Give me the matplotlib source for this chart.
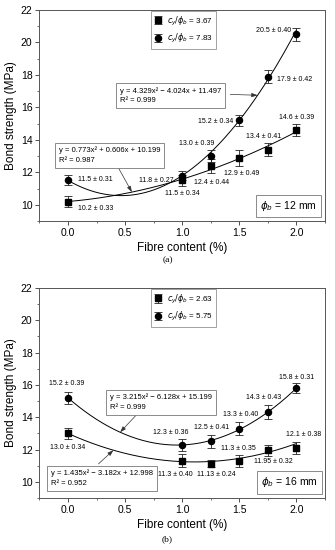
import numpy as np
import matplotlib
matplotlib.use("Agg")
import matplotlib.pyplot as plt
from matplotlib.ticker import MultipleLocator

plt.rcParams['font.family'] = ['Liberation Sans', 'DejaVu Sans']
plt.rcParams['mathtext.fontset'] = 'dejavusans'

# ---------------- data ----------------
fibre = [0.0, 1.0, 1.25, 1.5, 1.75, 2.0]

# panel (a) phi_b = 12 mm
a_sq_label = r'$c_y/\phi_b$ = 3.67'
a_ci_label = r'$c_y/\phi_b$ = 7.83'
a_sq_mean = [10.2, 11.5, 12.4, 12.9, 13.4, 14.6]
a_sq_err = [0.33, 0.34, 0.44, 0.49, 0.41, 0.39]
a_ci_mean = [11.5, 11.8, 13.0, 15.2, 17.9, 20.5]
a_ci_err = [0.31, 0.27, 0.39, 0.34, 0.42, 0.40]
a_sq_fit = [0.773, 0.606, 10.199]
a_ci_fit = [4.329, -4.024, 11.497]
a_sq_r2 = 0.987
a_ci_r2 = 0.999

# panel (b) phi_b = 16 mm
b_sq_label = r'$c_y/\phi_b$ = 2.63'
b_ci_label = r'$c_y/\phi_b$ = 5.75'
b_sq_mean = [13.0, 11.3, 11.13, 11.3, 11.95, 12.1]
b_sq_err = [0.34, 0.40, 0.24, 0.35, 0.32, 0.38]
b_ci_mean = [15.2, 12.3, 12.5, 13.3, 14.3, 15.8]
b_ci_err = [0.39, 0.36, 0.41, 0.40, 0.43, 0.31]
b_sq_fit = [1.435, -3.182, 12.998]
b_ci_fit = [3.215, -6.128, 15.199]
b_sq_r2 = 0.952
b_ci_r2 = 0.999

x_ticks = [0.0, 0.5, 1.0, 1.5, 2.0]
y_ticks = [10, 12, 14, 16, 18, 20, 22]

# ---------------- helpers ----------------
def fmt_num(v):
    s = f"{v:.2f}".rstrip('0')
    if s.endswith('.'):
        s += '0'
    return s

def fmt_label(m, e):
    return f"{fmt_num(m)} \u00b1 {e:.2f}"

def fmt_eq(c):
    def term(v, s, first=False):
        sign = '\u2212' if v < 0 else '+'
        if first:
            return f"{abs(v):.3f}{s}" if v >= 0 else f"\u2212{abs(v):.3f}{s}"
        return f" {sign} {abs(v):.3f}{s}"
    return "y = " + term(c[0], "x\u00b2", True) + term(c[1], "x") + term(c[2], "")

fig = plt.figure(figsize=(3.35, 5.5), dpi=100)
ax_a = fig.add_axes([0.1179, 0.5982, 0.8522, 0.3836])
ax_b = fig.add_axes([0.1179, 0.0945, 0.8522, 0.3818])

xs_fit = np.linspace(0, 2, 200)
lblfs = 5.0
eqfs = 5.5

def setup(ax):
    ax.set_xlim(-0.25, 2.25)
    ax.set_ylim(9, 22)
    ax.set_xticks(x_ticks)
    ax.set_xticklabels([f"{v:.1f}" for v in x_ticks])
    ax.set_yticks(y_ticks)
    ax.xaxis.set_minor_locator(MultipleLocator(0.25))
    ax.yaxis.set_minor_locator(MultipleLocator(1))
    ax.tick_params(which='major', direction='out', length=3, width=0.6,
                   labelsize=7.5, colors='#333333', labelcolor='black', pad=2)
    ax.tick_params(which='minor', direction='out', length=1.6, width=0.5, colors='#333333')
    for s in ax.spines.values():
        s.set_color('#555555')
        s.set_linewidth(0.7)
    ax.set_xlabel('Fibre content (%)', fontsize=8.5, labelpad=3)
    ax.set_ylabel('Bond strength (MPa)', fontsize=8.5, labelpad=3)

def draw_series(ax, mean, err, fitc, marker, ms, label):
    ax.plot(xs_fit, np.polyval(fitc, xs_fit), color='black', lw=0.7, zorder=2)
    ax.errorbar(fibre, mean, yerr=err, fmt=marker, color='black', ms=ms,
                ecolor='#222222', elinewidth=0.6, capsize=2.8, capthick=0.6,
                label=label, zorder=3)

def eqbox(ax, x, y, fitc, r2, arrow_start, tip_x):
    ax.text(x, y, fmt_eq(fitc) + "\nR\u00b2 = " + f"{r2:.3f}", fontsize=eqfs,
            ha='left', va='center', linespacing=1.55,
            bbox=dict(boxstyle='square,pad=0.5', fc='white', ec='#777777', lw=0.6),
            zorder=5)
    ax.annotate('', xy=(tip_x, np.polyval(fitc, tip_x)), xytext=arrow_start,
                arrowprops=dict(arrowstyle='-|>,head_length=0.35,head_width=0.12',
                                color='#333333', lw=0.5, shrinkA=0, shrinkB=0),
                zorder=4)

def phibox(ax, x, y, text):
    ax.text(x, y, r'$\phi_b$' + text, fontsize=7.5, ha='center', va='center',
            bbox=dict(boxstyle='square,pad=0.4', fc='white', ec='#777777', lw=0.6),
            zorder=5)

def legend(ax):
    leg = ax.legend(loc='upper left', bbox_to_anchor=(0.39, 0.995), fontsize=5.8,
                    frameon=True, fancybox=False, borderaxespad=0, handlelength=1.0,
                    handletextpad=0.5, borderpad=0.45, labelspacing=0.55)
    leg.get_frame().set_edgecolor('#777777')
    leg.get_frame().set_linewidth(0.6)

# ---------------- panel (a) ----------------
setup(ax_a)
draw_series(ax_a, a_sq_mean, a_sq_err, a_sq_fit, 's', 4.0, a_sq_label)
draw_series(ax_a, a_ci_mean, a_ci_err, a_ci_fit, 'o', 4.4, a_ci_label)
legend(ax_a)

a_sq_pos = [(0.24, 9.74), (1.0, 10.67), (1.26, 11.37), (1.52, 11.93), (1.71, 14.2), (2.0, 15.37)]
a_ci_pos = [(0.24, 11.53), (0.77, 11.47), (1.13, 13.78), (1.29, 15.15), (1.98, 17.73), (1.80, 20.72)]
for (px, py), m, e in zip(a_sq_pos, a_sq_mean, a_sq_err):
    ax_a.text(px, py, fmt_label(m, e), fontsize=lblfs, ha='center', va='center')
for (px, py), m, e in zip(a_ci_pos, a_ci_mean, a_ci_err):
    ax_a.text(px, py, fmt_label(m, e), fontsize=lblfs, ha='center', va='center')

eqbox(ax_a, 0.456, 16.72, a_ci_fit, a_ci_r2, (1.421, 16.8), 1.66)
eqbox(ax_a, -0.079, 13.05, a_sq_fit, a_sq_r2, (0.439, 12.30), 0.559)
phibox(ax_a, 1.93, 9.93, ' = 12 mm')
fig.text(0.5, 1 - 260.3 / 550, '(a)', ha='center', va='center', fontsize=6.8,
         family='Liberation Serif')

# ---------------- panel (b) ----------------
setup(ax_b)
draw_series(ax_b, b_sq_mean, b_sq_err, b_sq_fit, 's', 4.0, b_sq_label)
draw_series(ax_b, b_ci_mean, b_ci_err, b_ci_fit, 'o', 4.4, b_ci_label)
legend(ax_b)

b_sq_pos = [(0.0, 12.15), (0.94, 10.43), (1.30, 10.43), (1.49, 12.09), (1.80, 11.25), (2.06, 12.95)]
b_ci_pos = [(-0.01, 16.07), (0.90, 13.08), (1.26, 13.38), (1.51, 14.18), (1.71, 15.23), (2.0, 16.46)]
for (px, py), m, e in zip(b_sq_pos, b_sq_mean, b_sq_err):
    ax_b.text(px, py, fmt_label(m, e), fontsize=lblfs, ha='center', va='center')
for (px, py), m, e in zip(b_ci_pos, b_ci_mean, b_ci_err):
    ax_b.text(px, py, fmt_label(m, e), fontsize=lblfs, ha='center', va='center')

eqbox(ax_b, 0.368, 14.92, b_ci_fit, b_ci_r2, (0.603, 14.18), 0.456)
eqbox(ax_b, -0.152, 10.22, b_sq_fit, b_sq_r2, (0.266, 11.11), 0.397)
phibox(ax_b, 1.94, 9.97, ' = 16 mm')
fig.text(0.5, 1 - 539 / 550, '(b)', ha='center', va='center', fontsize=6.8,
         family='Liberation Serif')

fig.savefig('out.png', dpi=100)
